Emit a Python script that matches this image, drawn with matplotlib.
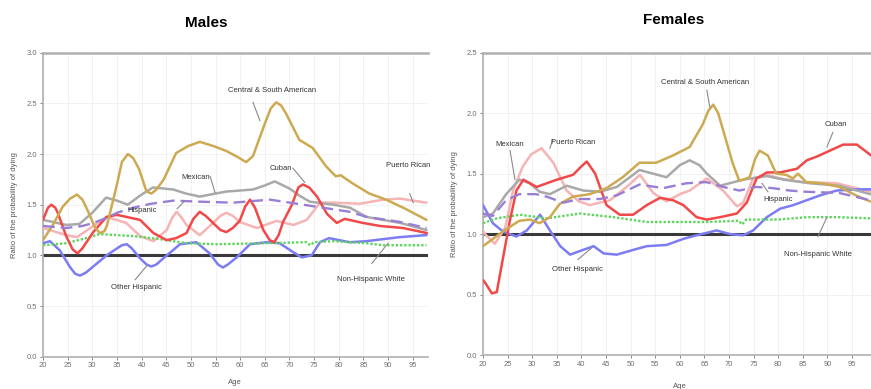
import matplotlib
matplotlib.use("Agg")
import matplotlib.pyplot as plt
from matplotlib import font_manager

names = {f.name for f in font_manager.fontManager.ttflist}
NARROW = ['Liberation Sans Narrow', 'Liberation Sans', 'DejaVu Sans'] if 'Liberation Sans Narrow' in names else ['Liberation Sans', 'DejaVu Sans']
plt.rcParams['font.family'] = NARROW

# ---------------- Males ----------------
csa_m_age = [20, 22, 24, 25.5, 26.9, 28, 29, 30.5, 31.5, 32.5, 33, 35, 36, 37.2, 38.3, 39.5, 41, 42, 43, 44.5, 47, 49.5, 51.8, 54.5, 57.2, 59.5, 61.2, 62.6, 65, 66.2, 67.3, 68.3, 69.3, 72, 74.7, 77.4, 79.4, 80.4, 82.8, 86.2, 89.6, 93.5, 97.8]
csa_m_val = [1.15, 1.3, 1.48, 1.56, 1.6, 1.55, 1.45, 1.28, 1.22, 1.24, 1.3, 1.7, 1.92, 2.0, 1.96, 1.85, 1.63, 1.61, 1.65, 1.75, 2.01, 2.08, 2.12, 2.08, 2.03, 1.97, 1.92, 1.98, 2.3, 2.45, 2.51, 2.48, 2.4, 2.14, 2.06, 1.88, 1.78, 1.79, 1.71, 1.61, 1.55, 1.46, 1.35]

mex_m_age = [20, 22, 24.7, 27.4, 30, 32.8, 35, 37.2, 40, 42.3, 46.4, 49, 51.8, 55, 57.2, 60, 62.6, 65, 67, 70, 72, 74.1, 78.9, 82.3, 85.6, 89, 92.5, 97.8]
mex_m_val = [1.35, 1.33, 1.30, 1.31, 1.42, 1.57, 1.54, 1.50, 1.6, 1.67, 1.65, 1.61, 1.58, 1.61, 1.63, 1.64, 1.65, 1.69, 1.73, 1.66, 1.59, 1.53, 1.50, 1.47, 1.38, 1.35, 1.32, 1.25]

his_m_age = [20, 24.7, 28, 30.2, 33, 35, 38.3, 42, 46.4, 51.8, 58.6, 66, 70.1, 75.5, 82.2, 85.6, 92.4, 97.8]
his_m_val = [1.29, 1.27, 1.29, 1.32, 1.37, 1.42, 1.47, 1.51, 1.54, 1.53, 1.52, 1.55, 1.52, 1.48, 1.43, 1.38, 1.33, 1.27]

pr_m_age = [20, 24.7, 26.9, 30.2, 32.9, 36.9, 39.7, 42.4, 45.1, 46.2, 47.1, 48, 49.1, 51.8, 54.5, 56, 57.2, 58.5, 59.9, 63.4, 67.4, 70.8, 73.5, 76.2, 78.8, 84.3, 89, 92.4, 97.8]
pr_m_val = [1.27, 1.2, 1.18, 1.29, 1.38, 1.32, 1.19, 1.14, 1.25, 1.37, 1.43, 1.38, 1.3, 1.2, 1.32, 1.39, 1.42, 1.39, 1.33, 1.27, 1.34, 1.3, 1.35, 1.52, 1.52, 1.51, 1.55, 1.56, 1.52]

cub_m_age = [20, 21, 21.7, 22.5, 23, 24.7, 26, 27, 28, 30.2, 32.9, 35, 39.7, 42.4, 45.1, 47, 49.1, 50.5, 51.8, 53, 54.5, 56, 57.2, 58.5, 59.9, 61, 62, 63, 64.7, 66, 66.9, 67.8, 68.7, 70.5, 71.8, 72.7, 74, 75.6, 77.6, 79.6, 81.2, 84.9, 88.4, 93, 97.9]
cub_m_val = [1.35, 1.47, 1.50, 1.47, 1.42, 1.19, 1.06, 1.02, 1.07, 1.23, 1.38, 1.40, 1.35, 1.22, 1.15, 1.17, 1.22, 1.36, 1.43, 1.39, 1.32, 1.25, 1.23, 1.27, 1.34, 1.48, 1.55, 1.47, 1.25, 1.15, 1.13, 1.2, 1.33, 1.50, 1.67, 1.70, 1.67, 1.58, 1.41, 1.32, 1.36, 1.32, 1.29, 1.27, 1.22]

oth_m_age = [20, 21.4, 23.4, 25.4, 26.5, 27.5, 28.7, 30.2, 32.9, 36, 37, 38, 39.7, 41, 42, 43, 44.4, 47.8, 51.1, 53.8, 55.5, 56.5, 57.5, 59.3, 62, 65.4, 68, 70.8, 72.5, 74.5, 76.2, 78, 82.2, 85.6, 92.4, 97.8]
oth_m_val = [1.12, 1.14, 1.05, 0.89, 0.82, 0.80, 0.83, 0.89, 1.0, 1.10, 1.11, 1.07, 0.97, 0.91, 0.89, 0.91, 0.97, 1.11, 1.13, 1.02, 0.91, 0.88, 0.91, 0.98, 1.11, 1.13, 1.12, 1.03, 0.98, 1.0, 1.13, 1.17, 1.13, 1.14, 1.18, 1.2]

nhw_m_age = [20, 24.7, 28, 31.5, 38.3, 43.7, 49.1, 55.2, 65.4, 73.5, 74.2, 75, 78.8, 85.6, 89, 97.8]
nhw_m_val = [1.10, 1.12, 1.16, 1.21, 1.19, 1.16, 1.12, 1.11, 1.12, 1.13, 1.10, 1.13, 1.14, 1.12, 1.10, 1.10]

# ---------------- Females ----------------
csa_f_age = [20, 24.7, 27.4, 29.5, 31.5, 33.6, 35.6, 38.3, 41.7, 45.1, 48.4, 51.8, 55.2, 58.6, 62, 64.7, 65.8, 66.8, 67.8, 68.8, 70.8, 72.1, 74.2, 75.3, 76.2, 77.9, 79.6, 81.6, 83, 84, 85.7, 89, 92.4, 95.8, 98.7]
csa_f_val = [0.9, 1.04, 1.11, 1.12, 1.09, 1.14, 1.25, 1.31, 1.33, 1.38, 1.47, 1.59, 1.59, 1.65, 1.72, 1.91, 2.02, 2.07, 2.0, 1.86, 1.58, 1.44, 1.47, 1.62, 1.69, 1.65, 1.5, 1.49, 1.46, 1.5, 1.43, 1.42, 1.39, 1.32, 1.27]

mex_f_age = [20, 22, 24.7, 27.4, 29.5, 31.5, 33.6, 37, 40.4, 43.8, 47.2, 51.8, 57.3, 60, 62, 64, 65.5, 68.2, 72.9, 77.7, 81.1, 86.5, 92.4, 98.7]
mex_f_val = [1.14, 1.17, 1.33, 1.45, 1.42, 1.35, 1.33, 1.40, 1.36, 1.35, 1.39, 1.53, 1.47, 1.57, 1.61, 1.57, 1.50, 1.40, 1.45, 1.48, 1.45, 1.42, 1.40, 1.33]

his_f_age = [20, 22, 24.7, 27.4, 30.8, 32.9, 36.3, 39.7, 43.8, 47.2, 51.8, 56.6, 61.3, 65.4, 68.8, 72.1, 75.5, 78.9, 82.3, 85.7, 92.4, 98.7]
his_f_val = [1.17, 1.15, 1.28, 1.33, 1.33, 1.31, 1.26, 1.29, 1.29, 1.32, 1.41, 1.38, 1.42, 1.43, 1.39, 1.36, 1.39, 1.38, 1.36, 1.35, 1.34, 1.28]

pr_f_age = [20, 20.4, 22.4, 24.5, 26.1, 28.1, 29.8, 31.9, 34.3, 37, 39.5, 41.7, 45.8, 49.2, 51.9, 54.6, 57.3, 60, 62, 65.5, 68.8, 71.6, 72.9, 74.9, 77.7, 80.4, 85, 91.9, 98.8]
pr_f_val = [1.03, 1.0, 0.92, 1.05, 1.36, 1.56, 1.66, 1.71, 1.59, 1.36, 1.27, 1.24, 1.28, 1.39, 1.49, 1.34, 1.27, 1.33, 1.36, 1.46, 1.36, 1.23, 1.26, 1.46, 1.49, 1.46, 1.43, 1.42, 1.35]

cub_f_age = [20, 20.4, 21.8, 22.8, 24.1, 25.5, 26.8, 28.2, 30.9, 35, 38.3, 40, 41.1, 42.8, 45.1, 47.8, 50.5, 53.3, 56, 58.6, 60.7, 63.4, 65.5, 68.2, 71.6, 73.6, 75.6, 77.7, 80.4, 83.8, 85.8, 87.8, 90.5, 93.2, 96, 98.9]
cub_f_val = [0.62, 0.60, 0.51, 0.52, 0.81, 1.12, 1.36, 1.45, 1.39, 1.45, 1.49, 1.56, 1.60, 1.50, 1.24, 1.16, 1.16, 1.24, 1.30, 1.28, 1.24, 1.14, 1.12, 1.14, 1.17, 1.26, 1.46, 1.51, 1.51, 1.54, 1.61, 1.64, 1.69, 1.74, 1.74, 1.65]

oth_f_age = [20, 22, 24.1, 26.8, 28.9, 31.6, 33.6, 35.7, 37.7, 40.4, 42.5, 44.5, 47.2, 50.6, 53.3, 57.3, 60.7, 63.4, 67.5, 70.2, 72.9, 74.9, 77.7, 80.4, 83.1, 85.8, 88.5, 91.9, 96, 98.9]
oth_f_val = [1.24, 1.09, 1.02, 0.98, 1.03, 1.16, 1.03, 0.90, 0.83, 0.87, 0.90, 0.84, 0.83, 0.87, 0.90, 0.91, 0.96, 0.99, 1.03, 1.0, 0.99, 1.03, 1.14, 1.21, 1.24, 1.28, 1.32, 1.36, 1.37, 1.37]

nhw_f_age = [20, 22.8, 27.5, 33, 39.7, 46.5, 53.3, 60, 65.5, 72, 72.7, 73.5, 80, 86, 92, 98.9]
nhw_f_val = [1.09, 1.13, 1.16, 1.13, 1.17, 1.14, 1.10, 1.10, 1.10, 1.11, 1.08, 1.12, 1.12, 1.14, 1.14, 1.13]

C_CSA = '#CDAA52'
C_MEX = '#A9A9A9'
C_HIS = '#9A7ED6'
C_PR = '#F6B4B4'
C_CUB = '#F24848'
C_OTH = '#7C7CF4'
C_NHW = '#5CD65C'

male_series = [
    (pr_m_age, pr_m_val, C_PR, '-'),
    (oth_m_age, oth_m_val, C_OTH, '-'),
    (nhw_m_age, nhw_m_val, C_NHW, ':'),
    (mex_m_age, mex_m_val, C_MEX, '-'),
    (cub_m_age, cub_m_val, C_CUB, '-'),
    (his_m_age, his_m_val, C_HIS, '--'),
    (csa_m_age, csa_m_val, C_CSA, '-'),
]
female_series = [
    (pr_f_age, pr_f_val, C_PR, '-'),
    (oth_f_age, oth_f_val, C_OTH, '-'),
    (nhw_f_age, nhw_f_val, C_NHW, ':'),
    (mex_f_age, mex_f_val, C_MEX, '-'),
    (cub_f_age, cub_f_val, C_CUB, '-'),
    (his_f_age, his_f_val, C_HIS, '--'),
    (csa_f_age, csa_f_val, C_CSA, '-'),
]

# labels: (text, text_x, text_y, line_start, line_end)
male_labels = [
    ('Central & South American', 66.5, 2.63, (62.6, 2.51), (64.0, 2.33)),
    ('Mexican', 51.0, 1.77, (53.9, 1.78), (54.9, 1.62)),
    ('Hispanic', 40.1, 1.44, (47.2, 1.46), (48.8, 1.54)),
    ('Cuban', 68.3, 1.86, (70.7, 1.86), (73.1, 1.72)),
    ('Puerto Rican', 94.0, 1.89, (94.4, 1.61), (95.1, 1.52)),
    ('Other Hispanic', 38.9, 0.68, (38.7, 0.76), (41.1, 0.90)),
    ('Non-Hispanic White', 86.5, 0.76, (86.7, 0.92), (90.0, 1.12)),
]
female_labels = [
    ('Central & South American', 65.1, 2.25, (65.5, 2.19), (66.1, 2.05)),
    ('Mexican', 25.5, 1.74, (25.5, 1.69), (26.5, 1.45)),
    ('Puerto Rican', 38.3, 1.76, (34.2, 1.78), (33.6, 1.71)),
    ('Cuban', 91.7, 1.91, (91.1, 1.84), (89.9, 1.72)),
    ('Hispanic', 80.0, 1.29, (77.9, 1.35), (76.7, 1.42)),
    ('Other Hispanic', 39.1, 0.71, (39.3, 0.79), (42.2, 0.89)),
    ('Non-Hispanic White', 88.1, 0.83, (88.1, 0.98), (89.9, 1.14)),
]

W, H = 871, 389
fig = plt.figure(figsize=(W / 100, H / 100), dpi=100)

def make_ax(x0, x1, ytop, ybot, xmax, ymax):
    ax = fig.add_axes([x0 / W, 1 - ybot / H, (x1 - x0) / W, (ybot - ytop) / H])
    ax.set_xlim(20, xmax)
    ax.set_ylim(0, ymax)
    return ax

def style(ax, xmax, ymax, series, labels, xlabelpad):
    ax.spines['right'].set_visible(False)
    for s in ['left', 'bottom', 'top']:
        ax.spines[s].set_color('#b0b0b0')
        ax.spines[s].set_linewidth(1.2)
    ax.spines['top'].set_linewidth(1.8)
    xt = list(range(20, int(xmax) + 1, 5))
    ax.set_xticks(xt)
    ax.set_xticklabels([str(v) for v in xt])
    yt = [i * 0.5 for i in range(int(ymax / 0.5) + 1)]
    ax.set_yticks(yt)
    ax.set_yticklabels(['%.1f' % v for v in yt])
    ax.tick_params(axis='both', labelsize=5.5, colors='#707070', length=2, width=0.6, pad=2)
    ax.grid(True, color='#f0f0f0', linewidth=0.6)
    ax.set_axisbelow(True)
    ax.axhline(1.0, color='#3a3a3a', lw=2.2, zorder=2)
    for a, v, c, ls in series:
        if ls == ':':
            ax.plot(a, v, color=c, lw=1.7, ls=(0, (1, 0.8)), zorder=3)
        elif ls == '--':
            ax.plot(a, v, color=c, lw=1.7, ls=(0, (5, 2.5)), zorder=4)
        else:
            ax.plot(a, v, color=c, lw=1.8, ls='-', zorder=3, solid_joinstyle='round', solid_capstyle='round')
    for t, tx, ty, p0, p1 in labels:
        ax.text(tx, ty, t, fontsize=5.5, color='#333333', ha='center', va='center', zorder=6)
        ax.plot([p0[0], p1[0]], [p0[1], p1[1]], color='#8a8a8a', lw=0.8, zorder=5)
    ax.set_xlabel('Age', fontsize=5.5, color='#555555', labelpad=xlabelpad)
    ax.set_ylabel('Ratio of the probability of dying', fontsize=5.5, color='#555555', labelpad=6)

ax1 = make_ax(43, 427.5, 52.7, 356.7, 98, 3.0)
style(ax1, 98, 3.0, male_series, male_labels, 7)
ax2 = make_ax(483, 876.6, 52.7, 355, 100, 2.5)
style(ax2, 100, 2.5, female_series, female_labels, 11)

fig.text(206 / W, 1 - 23 / H, 'Males', fontsize=11, fontweight='bold', ha='center', va='center', family=['Liberation Sans', 'DejaVu Sans'])
fig.text(674 / W, 1 - 20 / H, 'Females', fontsize=11, fontweight='bold', ha='center', va='center', family=['Liberation Sans', 'DejaVu Sans'])

fig.savefig('out.png', dpi=100)
